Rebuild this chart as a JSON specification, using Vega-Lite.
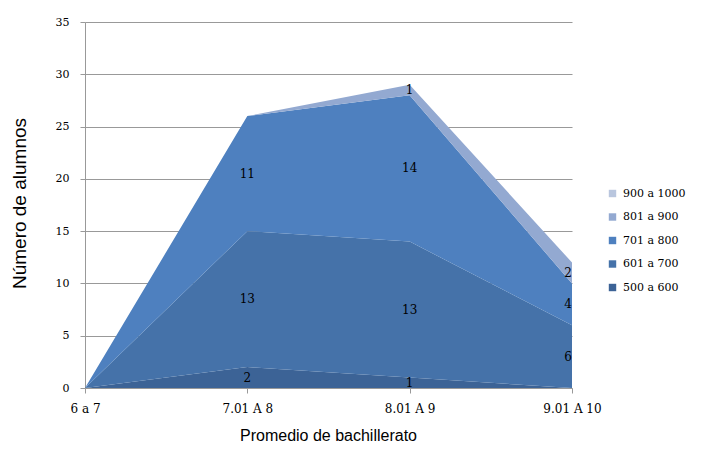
{
  "$schema": "https://vega.github.io/schema/vega-lite/v6.json",
  "width": 487,
  "height": 366,
  "autosize": {"type": "none"},
  "padding": {"left": 85, "top": 22, "right": 134, "bottom": 84},
  "background": "white",
  "config": {"view": {"stroke": null}},
  "data": {
    "values": [
      {"cat": "6 a 7", "serie": "500 a 600", "n": 0},
      {"cat": "7.01 A 8", "serie": "500 a 600", "n": 2},
      {"cat": "8.01 A 9", "serie": "500 a 600", "n": 1},
      {"cat": "9.01 A 10", "serie": "500 a 600", "n": 0},
      {"cat": "6 a 7", "serie": "601 a 700", "n": 0},
      {"cat": "7.01 A 8", "serie": "601 a 700", "n": 13},
      {"cat": "8.01 A 9", "serie": "601 a 700", "n": 13},
      {"cat": "9.01 A 10", "serie": "601 a 700", "n": 6},
      {"cat": "6 a 7", "serie": "701 a 800", "n": 0},
      {"cat": "7.01 A 8", "serie": "701 a 800", "n": 11},
      {"cat": "8.01 A 9", "serie": "701 a 800", "n": 14},
      {"cat": "9.01 A 10", "serie": "701 a 800", "n": 4},
      {"cat": "6 a 7", "serie": "801 a 900", "n": 0},
      {"cat": "7.01 A 8", "serie": "801 a 900", "n": 0},
      {"cat": "8.01 A 9", "serie": "801 a 900", "n": 1},
      {"cat": "9.01 A 10", "serie": "801 a 900", "n": 2},
      {"cat": "6 a 7", "serie": "900 a 1000", "n": 0},
      {"cat": "7.01 A 8", "serie": "900 a 1000", "n": 0},
      {"cat": "8.01 A 9", "serie": "900 a 1000", "n": 0},
      {"cat": "9.01 A 10", "serie": "900 a 1000", "n": 0}
    ]
  },
  "transform": [
    {"stack": "n", "groupby": ["cat"], "sort": [{"field": "serie", "order": "ascending"}], "as": ["y0", "y1"]},
    {"calculate": "(datum.y0 + datum.y1) / 2", "as": "ymid"}
  ],
  "layer": [
    {
      "mark": {"type": "area", "opacity": 1},
      "encoding": {
        "x": {
          "field": "cat", "type": "ordinal",
          "scale": {"type": "point", "padding": 0, "domain": ["6 a 7", "7.01 A 8", "8.01 A 9", "9.01 A 10"]},
          "axis": {
            "title": "Promedio de bachillerato",
            "titleFont": "Liberation Sans", "titleFontSize": 16, "titleFontWeight": "normal", "titleColor": "#000",
            "titleX": 243, "titleY": 47, "titleBaseline": "middle",
            "labelFont": "DejaVu Serif", "labelFontSize": 12, "labelColor": "#000", "labelAngle": 0,
            "labelPadding": 10, "domainColor": "#999", "tickColor": "#999", "tickSize": 5, "grid": false
          }
        },
        "y": {
          "field": "y1", "type": "quantitative",
          "scale": {"domain": [0, 35]},
          "axis": {
            "title": "Número de alumnos",
            "titleFont": "Liberation Sans", "titleFontSize": 19, "titleFontWeight": "normal", "titleColor": "#000",
            "titleX": -66, "titleY": 181, "titleBaseline": "middle",
            "values": [0, 5, 10, 15, 20, 25, 30, 35],
            "labelFont": "DejaVu Serif", "labelFontSize": 11, "labelColor": "#000", "labelPadding": 11,
            "domainColor": "#999", "tickColor": "#999", "tickSize": 5,
            "grid": true, "gridColor": "#999", "gridWidth": 1
          }
        },
        "y2": {"field": "y0"},
        "color": {
          "field": "serie", "type": "nominal",
          "scale": {
            "domain": ["900 a 1000", "801 a 900", "701 a 800", "601 a 700", "500 a 600"],
            "range": ["#b9c6de", "#93a9d1", "#4e80bf", "#4572a9", "#3c6396"]
          },
          "legend": {
            "title": null, "orient": "none", "legendX": 522, "legendY": 166,
            "symbolType": "square", "symbolSize": 55, "symbolStrokeWidth": 0, "symbolOpacity": 1,
            "labelFont": "DejaVu Serif", "labelFontSize": 11, "labelColor": "#000",
            "rowPadding": 11.5, "labelOffset": 5
          }
        }
      }
    },
    {
      "transform": [{"filter": "datum.n > 0 && datum.cat != '9.01 A 10'"}],
      "mark": {"type": "text", "font": "DejaVu Serif", "fontSize": 12, "color": "#000", "baseline": "middle", "align": "center"},
      "encoding": {
        "x": {"field": "cat", "type": "ordinal"},
        "y": {"field": "ymid", "type": "quantitative"},
        "text": {"field": "n", "type": "quantitative"}
      }
    },
    {
      "transform": [{"filter": "datum.n > 0 && datum.cat == '9.01 A 10'"}],
      "mark": {"type": "text", "font": "DejaVu Serif", "fontSize": 12, "color": "#000", "baseline": "middle", "align": "right", "dx": 0},
      "encoding": {
        "x": {"field": "cat", "type": "ordinal"},
        "y": {"field": "ymid", "type": "quantitative"},
        "text": {"field": "n", "type": "quantitative"}
      }
    }
  ]
}
